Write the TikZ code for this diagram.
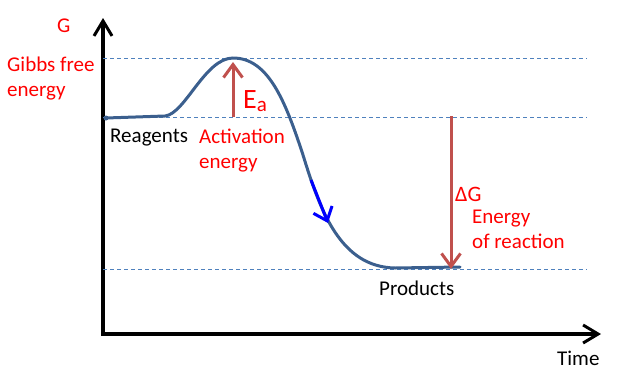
\documentclass[tikz,border=0pt]{standalone}
\usepackage{fontspec}
\setmainfont{Carlito}
\usetikzlibrary{arrows.meta}
\definecolor{curveblue}{HTML}{3B5F8E}
\definecolor{levelblue}{HTML}{4F81BD}
\definecolor{gapred}{HTML}{C0504D}

\begin{document}
\begin{tikzpicture}[x=1pt,y=-1pt,
	txt/.style={font=\fontsize{21}{25}\selectfont,inner sep=0pt,anchor=base west,align=left},
	redtxt/.style={txt,text=red},
	level/.style={draw=levelblue,dashed,dash pattern=on 4pt off 3pt,line width=0.8pt},
	gaparrow/.style={draw=gapred,line width=3pt,-{Straight Barb[length=13pt,width=19pt,line width=3pt]}}]
	\useasboundingbox (0,0) rectangle (620,383);
	% axes
	\coordinate (origin) at (103,334);
	\coordinate (gtip) at (103,18);
	\coordinate (ttip) at (601,334);
	\draw[line width=3.5pt,{Straight Barb[length=15pt,width=18pt,line width=3pt]}-{Straight Barb[length=15pt,width=18pt,line width=3pt]}] (gtip) -- (origin) -- (ttip);
	% energy levels
	\coordinate (peak) at (233,58);
	\coordinate (reag) at (106,117);
	\coordinate (prod) at (451,269);
	\draw[level] (origin |- peak) -- (587,58);
	\draw[level] (origin |- reag) -- (587,117);
	\draw[level] (origin |- prod) -- (587,269);
	% reaction path
	\draw[curveblue,line width=3pt,line cap=round] (106,118) -- (165,116)
		.. controls (185,114) and (205,58) .. (peak)
		.. controls (268,58) and (285,100) .. (303,155)
		.. controls (320,210) and (340,267) .. (395,268) -- (460,267);
	\fill[curveblue] (106,118) circle (2.5pt);
	\coordinate (down1) at (311,180);
	\coordinate (down2) at (328,223);
	\draw[blue,line width=3pt,-{Straight Barb[length=12pt,width=20pt,line width=3pt]}] (down1) -- (down2);
	% gaps
	\draw[gaparrow] (233,117) -- (233,62);
	\draw[gaparrow] (451,116) -- (prod);
	% labels
	\node[redtxt] (gname) at (57,32) {G};
	\node[redtxt] (gibbs) at (7,96) {Gibbs free\\energy};
	\node[txt] (reagents) at (110,142) {Reagents};
	\node[redtxt] (actlbl) at (199,168) {Activation\\energy};
	\node[redtxt] (ea) at (243,108) {\fontsize{28}{30}\selectfont E\raisebox{-3pt}{\fontsize{21}{22}\selectfont a}};
	\node[redtxt] (dg) at (455,201) {\fontsize{22}{24}\selectfont ΔG};
	\node[redtxt] (reaclbl) at (472,248) {Energy\\of reaction};
	\node[txt] (products) at (379,295) {Products};
	\node[txt] (time) at (557,365) {Time};
\end{tikzpicture}
\end{document}
